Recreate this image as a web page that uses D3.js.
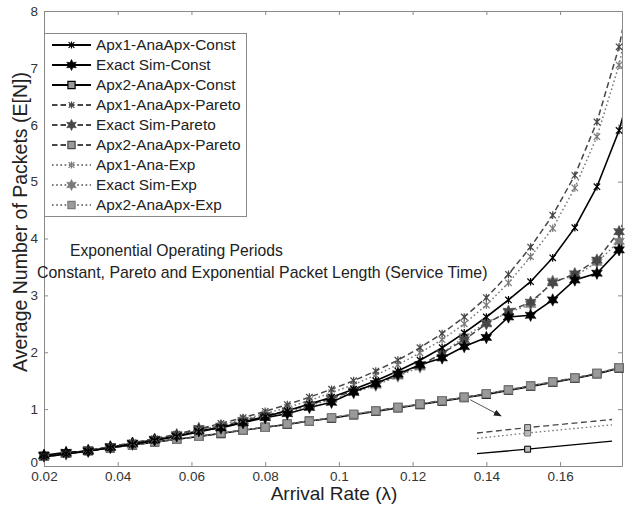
<!DOCTYPE html>
<html><head><meta charset="utf-8">
<script src="https://cdn.jsdelivr.net/npm/d3@7"></script>
<style>body{margin:0;background:#fff}svg{display:block;font-family:"Liberation Sans",Arial,sans-serif}</style>
</head><body><svg id="c" width="633" height="508"></svg>
<script>
// ---------------- data ----------------
const lambda = [0.020,0.026,0.032,0.038,0.044,0.050,0.056,0.062,0.068,0.074,0.080,0.086,0.092,0.098,0.104,0.110,0.116,0.122,0.128,0.134,0.140,0.146,0.152,0.158,0.164,0.170,0.176,0.182];
const apx1Const  = [0.16,0.21,0.26,0.32,0.38,0.45,0.52,0.60,0.68,0.77,0.87,0.97,1.09,1.21,1.35,1.50,1.67,1.86,2.08,2.34,2.62,2.92,3.24,3.66,4.19,4.91,5.90,7.30];
const simConst   = [0.19,0.24,0.26,0.33,0.40,0.46,0.53,0.62,0.67,0.76,0.85,0.92,1.03,1.12,1.30,1.45,1.62,1.78,1.90,2.10,2.26,2.62,2.65,2.92,3.27,3.39,3.80,4.50];
const apx2Const  = [0.17,0.22,0.27,0.32,0.37,0.42,0.47,0.52,0.57,0.63,0.68,0.73,0.79,0.84,0.90,0.96,1.02,1.08,1.14,1.20,1.26,1.33,1.40,1.47,1.54,1.62,1.72,1.81];
const apx1Pareto = [0.16,0.21,0.27,0.34,0.41,0.48,0.56,0.65,0.75,0.85,0.96,1.08,1.21,1.35,1.50,1.67,1.86,2.08,2.33,2.62,2.96,3.37,3.85,4.41,5.11,6.05,7.37,9.30];
const simPareto  = [0.18,0.22,0.28,0.34,0.40,0.47,0.55,0.66,0.70,0.80,0.89,0.97,1.08,1.19,1.32,1.44,1.60,1.77,1.98,2.22,2.50,2.72,2.88,3.22,3.38,3.62,4.12,4.90];
const apx2Pareto = [0.17,0.22,0.27,0.32,0.37,0.42,0.47,0.52,0.58,0.63,0.68,0.74,0.79,0.85,0.91,0.97,1.03,1.09,1.15,1.21,1.27,1.34,1.41,1.48,1.55,1.63,1.73,1.82];
const apx1Exp    = [0.16,0.21,0.27,0.33,0.40,0.47,0.54,0.63,0.72,0.82,0.92,1.03,1.15,1.29,1.43,1.60,1.78,1.99,2.22,2.50,2.83,3.22,3.68,4.18,4.89,5.79,7.05,8.90];
const simExp     = [0.17,0.21,0.27,0.33,0.38,0.45,0.52,0.64,0.68,0.78,0.87,0.95,1.06,1.17,1.29,1.42,1.58,1.74,1.98,2.27,2.52,2.70,2.84,3.25,3.34,3.58,3.95,4.70];
const apx2Exp    = [0.17,0.22,0.27,0.32,0.37,0.42,0.47,0.52,0.58,0.63,0.68,0.74,0.79,0.85,0.91,0.97,1.03,1.09,1.15,1.21,1.27,1.34,1.41,1.48,1.55,1.63,1.73,1.82];

const seriesNames = ["Apx1-AnaApx-Const","Exact Sim-Const","Apx2-AnaApx-Const","Apx1-AnaApx-Pareto","Exact Sim-Pareto","Apx2-AnaApx-Pareto","Apx1-Ana-Exp","Exact Sim-Exp","Apx2-AnaApx-Exp"];
const seriesValues = [apx1Const,simConst,apx2Const,apx1Pareto,simPareto,apx2Pareto,apx1Exp,simExp,apx2Exp];

// zoomed inset of the Apx2 curves
const insetLambda = [0.1295,0.134,0.1415];
const insetConst  = [1.187,1.192,1.201];
const insetExp    = [1.204,1.210,1.219];
const insetPareto = [1.210,1.216,1.225];

const xTicks = [0.02,0.04,0.06,0.08,0.1,0.12,0.14,0.16];
const xTickLabels = ["0.02","0.04","0.06","0.08","0.1","0.12","0.14","0.16"];
const yTicks = [0,1,2,3,4,5,6,7,8];
const yTickLabels = ["0","1","2","3","4","5","6","7","8"];
const xTitle = "Arrival Rate (\u03bb)";
const yTitle = "Average Number of Packets (E[N])";
const note1 = "Exponential Operating Periods";
const note2 = "Constant, Pareto and Exponential Packet Length (Service Time)";

// ---------------- styles ----------------
const colorOf = {Const:"#000000", Pareto:"#474747", Exp:"#7a7a7a"};
const dashOf  = {Const:null, Pareto:"6,3.5", Exp:"1.6,2.6"};
function famOf(n){ return n.endsWith("Const")?"Const":n.endsWith("Pareto")?"Pareto":"Exp"; }
function markOf(n){ return n.startsWith("Apx1")?"x":n.startsWith("Exact")?"hex":"sq"; }

const svg = d3.select("#c");
const L=44, R=622, T=11, B=466;
const x = d3.scaleLinear().domain([0.02,0.1768]).range([L,R]);
const y = d3.scaleLinear().domain([0,8]).range([B,T]);

svg.append("defs").append("clipPath").attr("id","clip")
  .append("rect").attr("x",L).attr("y",T).attr("width",R-L).attr("height",B-T);

function markerPath(type, s){
  if(type==="x"){ const r=3.2*s; return `M${-r},${-r}L${r},${r}M${-r},${r}L${r},${-r}M0,${-r*1.2}L0,${r*1.2}`; }
  if(type==="sq"){ const r=4*s; return `M${-r},${-r}H${r}V${r}H${-r}Z`; }
  const ro=6.2*s, ri=3.2*s; let p="";
  for(let k=0;k<12;k++){ const a=-Math.PI/2+k*Math.PI/6; const rr=k%2?ri:ro; p+=(k?"L":"M")+(rr*Math.cos(a)).toFixed(2)+","+(rr*Math.sin(a)).toFixed(2); }
  return p+"Z";
}
function drawMarker(g, type, fam, cx, cy, s){
  const c = colorOf[fam];
  const el = g.append("path").attr("d", markerPath(type,s||1)).attr("transform",`translate(${cx},${cy})`);
  if(type==="x") el.attr("fill","none").attr("stroke",c).attr("stroke-width",1.2);
  else if(type==="sq") el.attr("fill","#9a9a9a").attr("stroke",c).attr("stroke-width",1.2);
  else el.attr("fill",c).attr("stroke",c).attr("stroke-width",0.6);
}

// ---------------- axes ----------------
const axG = svg.append("g");
const ax = (g)=>{ g.selectAll(".domain").attr("stroke","#8a8a8a"); g.selectAll(".tick line").attr("stroke","#8a8a8a"); g.selectAll("text").attr("fill","#333").attr("font-size","13.5px").attr("font-family","Liberation Sans, Arial, sans-serif"); };
axG.append("g").attr("transform",`translate(0,${B})`)
  .call(d3.axisBottom(x).tickValues(xTicks).tickFormat((d,i)=>xTickLabels[i]).tickSizeInner(-4).tickSizeOuter(0).tickPadding(5)).call(ax);
axG.append("g").attr("transform",`translate(0,${T})`)
  .call(d3.axisTop(x).tickValues(xTicks).tickFormat("").tickSizeInner(-4).tickSizeOuter(0)).call(ax);
const yAx = axG.append("g").attr("transform",`translate(${L},0)`)
  .call(d3.axisLeft(y).tickValues(yTicks).tickFormat((d,i)=>yTickLabels[i]).tickSizeInner(-4).tickSizeOuter(0).tickPadding(6)).call(ax);
yAx.selectAll(".tick text").filter(d=>d===0).attr("dy","0.05em");
axG.append("g").attr("transform",`translate(${R},0)`)
  .call(d3.axisRight(y).tickValues(yTicks).tickFormat("").tickSizeInner(-4).tickSizeOuter(0)).call(ax);

// ---------------- series ----------------
const line = d3.line().x((d,i)=>x(lambda[i])).y(d=>y(d));
const order = [2,5,8,7,4,1,6,3,0];
const lg = svg.append("g").attr("clip-path","url(#clip)");
const mg = svg.append("g");
order.forEach(k=>{
  const n=seriesNames[k], fam=famOf(n), vals=seriesValues[k];
  const p = lg.append("path").attr("d",line(vals)).attr("fill","none").attr("stroke",colorOf[fam]).attr("stroke-width",fam==="Const"?1.6:1.5);
  if(dashOf[fam]) p.attr("stroke-dasharray",dashOf[fam]);
});
order.forEach(k=>{
  const n=seriesNames[k], fam=famOf(n), vals=seriesValues[k];
  vals.forEach((v,i)=>{ if(lambda[i]<=x.domain()[1]+1e-9) drawMarker(mg, markOf(n), fam, x(lambda[i]), y(v)); });
});

// ---------------- inset + arrow ----------------
const xi = d3.scaleLinear().domain([0.1295,0.1415]).range([477,612]);
const yi = d3.scaleLinear().domain([1.18,1.23]).range([460,415]);
const inset = svg.append("g");
[["Const",insetConst],["Exp",insetExp],["Pareto",insetPareto]].forEach(([fam,vals])=>{
  const li = d3.line().x((d,i)=>xi(insetLambda[i])).y(d=>yi(d));
  const p=inset.append("path").attr("d",li(vals)).attr("fill","none").attr("stroke",colorOf[fam]).attr("stroke-width",1.3);
  if(dashOf[fam]) p.attr("stroke-dasharray",dashOf[fam]);
  inset.append("path").attr("d",markerPath("sq",0.75)).attr("transform",`translate(${xi(insetLambda[1])},${yi(vals[1])})`)
    .attr("fill","#bbb").attr("stroke",colorOf[fam]).attr("stroke-width",1);
});
const ai = lambda.indexOf(0.134);
const ax0 = x(lambda[ai])+6, ay0 = y(apx2Const[ai])+2, ax1 = 501, ay1 = 416;
svg.append("defs").append("marker").attr("id","ah").attr("viewBox","0 0 10 10").attr("refX",9).attr("refY",5)
  .attr("markerWidth",8).attr("markerHeight",8).attr("orient","auto")
  .append("path").attr("d","M0,1L10,5L0,9Z").attr("fill","#222");
svg.append("line").attr("x1",ax0).attr("y1",ay0).attr("x2",ax1).attr("y2",ay1)
  .attr("stroke","#555").attr("stroke-width",1).attr("marker-end","url(#ah)");

// ---------------- annotations ----------------
svg.append("text").attr("x",70).attr("y",256).attr("font-size","15.7px").attr("fill","#222").text(note1);
svg.append("text").attr("x",37).attr("y",278).attr("font-size","15.9px").attr("fill","#222").text(note2);

// ---------------- titles ----------------
svg.append("text").attr("x",334).attr("y",500).attr("text-anchor","middle").attr("font-size","19px").attr("fill","#222").text(xTitle);
svg.append("text").attr("transform","translate(27,222) rotate(-90)").attr("text-anchor","middle").attr("font-size","19.5px").attr("fill","#222").text(yTitle);

// ---------------- legend ----------------
const leg = svg.append("g");
leg.append("rect").attr("x",44.5).attr("y",33.5).attr("width",202).attr("height",183).attr("fill","#fff").attr("stroke","#8a8a8a");
seriesNames.forEach((n,i)=>{
  const fam=famOf(n), cy=45+i*20;
  const l=leg.append("line").attr("x1",52).attr("x2",91).attr("y1",cy).attr("y2",cy).attr("stroke",colorOf[fam]).attr("stroke-width",fam==="Const"?2.2:1.8);
  if(dashOf[fam]) l.attr("stroke-dasharray",fam==="Pareto"?"5.5,3":"1.6,2.6");
  drawMarker(leg, markOf(n), fam, 71.5, cy, 0.9);
  leg.append("text").attr("x",96).attr("y",cy+5.3).attr("font-size","15.4px").attr("fill","#222").text(n);
});
</script></body></html>
